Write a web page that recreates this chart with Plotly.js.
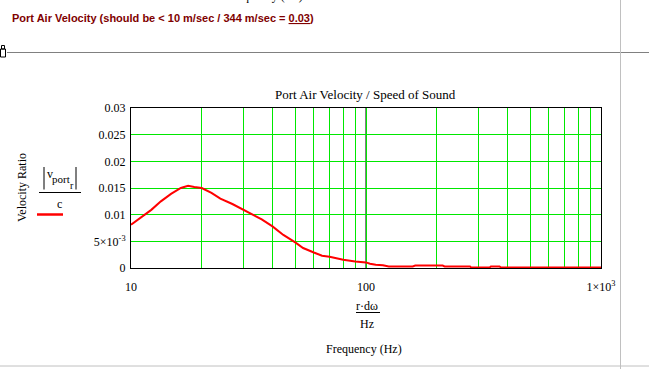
<!DOCTYPE html>
<html>
<head>
<meta charset="utf-8">
<script src="https://cdn.plot.ly/plotly-3.0.1.min.js"></script>
<style>
html,body{margin:0;padding:0;background:#fff;}
#chart{width:649px;height:369px;}
</style>
</head>
<body>
<div id="chart"></div>
<script>
// ---- data ----
const frequencyHz = [10, 11, 12.2, 13.4, 14.8, 16.3, 17.5, 18.6, 20, 22, 24, 27, 30, 33, 36, 40, 44.5, 50, 54, 60, 65, 70, 80, 90, 100, 104, 110, 118, 125, 158, 162, 212, 216, 277, 280, 336, 340, 370, 375, 1000];
const velocityRatio = [0.0081, 0.0095, 0.0109, 0.0125, 0.0139, 0.0150, 0.0154, 0.0152, 0.0150, 0.0141, 0.0130, 0.0120, 0.0109, 0.0100, 0.0091, 0.0078, 0.0062, 0.0048, 0.00375, 0.0029, 0.0023, 0.0021, 0.00156, 0.00124, 0.00105, 0.0008, 0.0006, 0.0005, 0.0003, 0.0003, 0.00045, 0.00045, 0.0003, 0.0003, 0.0001, 0.0001, 0.0003, 0.0003, 0.0001, 0.0001];

const xGridVals = [10,20,30,40,50,60,70,80,90,100,200,300,400,500,600,700,800,900,1000];
const xTickText = ['10','','','','','','','','','100','','','','','','','','','1×10<sup>3</sup>'];
const yTickVals = [0, 0.005, 0.01, 0.015, 0.02, 0.025, 0.03];
const yTickText = ['0', '5×10<sup>-3</sup>', '0.01', '0.015', '0.02', '0.025', '0.03'];

// ---- layout helpers (pixel -> paper) ----
const W = 649, H = 369, L = 131, T = 108, PW = 470, PH = 160;
const px = x => (x - L) / PW;
const py = y => (T + PH - y) / PH;

const serif = 'Liberation Serif, Times New Roman, serif';
const gridGreen = '#00e800';

function hline(x0, x1, y, color, width) {
  return {type:'line', xref:'paper', yref:'paper', x0:px(x0), x1:px(x1), y0:py(y), y1:py(y), line:{color:color, width:width}};
}
function vline(x, y0, y1, color, width) {
  return {type:'line', xref:'paper', yref:'paper', x0:px(x), x1:px(x), y0:py(y0), y1:py(y1), line:{color:color, width:width}};
}
function label(text, x, y, size, opts) {
  return Object.assign({xref:'paper', yref:'paper', x:px(x), y:py(y), text:text, showarrow:false,
    xanchor:'center', yanchor:'middle', font:{family:serif, size:size, color:'#000'}}, opts || {});
}

const trace = {
  x: frequencyHz, y: velocityRatio, type:'scatter', mode:'lines',
  line:{color:'#ff0000', width:2, shape:'linear'}, hoverinfo:'skip'
};

const layout = {
  width: W, height: H,
  margin:{l:L, r:W-L-PW, t:T, b:H-T-PH, pad:0},
  paper_bgcolor:'#fff', plot_bgcolor:'#fff',
  showlegend:false,
  xaxis:{
    type:'log', range:[1,3], tickmode:'array', tickvals:xGridVals, ticktext:xTickText,
    showgrid:true, gridcolor:gridGreen, gridwidth:1, zeroline:false,
    showline:true, linecolor:'#000', linewidth:1, mirror:true, ticks:'',
    ticklabelstandoff:8,
    tickfont:{family:serif, size:12, color:'#000'}
  },
  yaxis:{
    range:[0,0.03], tickmode:'array', tickvals:yTickVals, ticktext:yTickText,
    showgrid:true, gridcolor:gridGreen, gridwidth:1, zeroline:false,
    showline:true, linecolor:'#000', linewidth:1, mirror:true, ticks:'',
    ticklabelstandoff:2,
    tickfont:{family:serif, size:12, color:'#000'}
  },
  shapes:[
    {type:'line', xref:'x', yref:'paper', x0:100, x1:100, y0:0, y1:1, layer:'between', line:{color:'#000', width:1}},
    hline(7, 649, 52.5, '#808080', 1),
    vline(620.5, 0, 369, '#c0c0c0', 1),
    hline(0, 649, 366, '#c0c0c0', 1),
    {type:'rect', xref:'paper', yref:'paper', x0:px(0.5), x1:px(5.5), y0:py(49), y1:py(57), line:{color:'#000', width:1}, fillcolor:'#fff'},
    {type:'rect', xref:'paper', yref:'paper', x0:px(1.5), x1:px(4.5), y0:py(45.5), y1:py(49), line:{color:'#000', width:1}, fillcolor:'rgba(0,0,0,0)'},
    // legend fraction
    vline(44, 167, 189.5, '#000', 1),
    vline(76, 167, 189.5, '#000', 1),
    hline(39, 81, 192.5, '#000', 1),
    hline(37, 63, 214.5, '#ff0000', 2.5),
    // x-axis title fraction
    hline(356, 380, 312.5, '#000', 1)
  ],
  annotations:[
    label('<b>Port Air Velocity (should be &lt; 10 m/sec / 344 m/sec = <u>0.03</u>)</b>', 10, 17.5, 11,
      {xanchor:'left', font:{family:'Liberation Sans, Arial, sans-serif', size:11, color:'#800000'}}),
    label('Frequency (Hz)', 265, -4, 12),
    label('Port Air Velocity / Speed of Sound', 365, 94, 13),
    label('Velocity Ratio', 22, 188, 12, {textangle:-90}),
    label('v', 49.5, 174, 12),
    label('port', 61, 178.5, 11),
    label('r', 72, 185, 10),
    label('c', 59.5, 204, 12),
    label('r·dω', 367, 306, 12),
    label('Hz', 366.5, 323.5, 12),
    label('Frequency (Hz)', 364, 348.5, 12)
  ]
};

Plotly.newPlot('chart', [trace], layout, {staticPlot:true, displayModeBar:false});
</script>
</body>
</html>
